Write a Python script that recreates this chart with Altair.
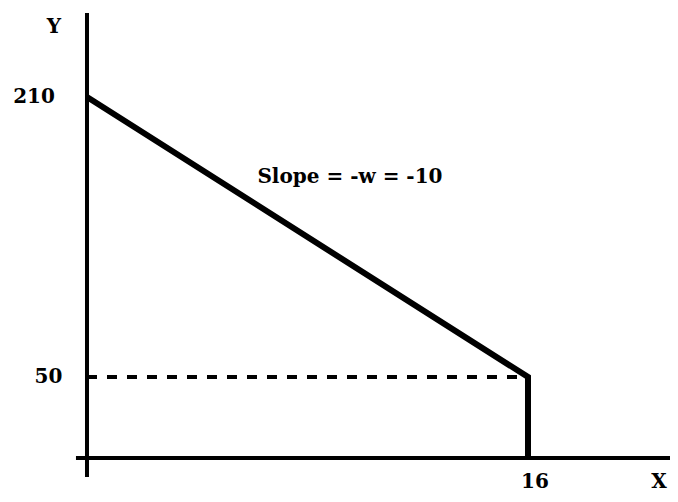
import altair as alt
import pandas as pd

# Main polyline (price line)
line_x = [0, 16, 16]
line_y = [210, 50, 3.7]

# Dashed guide
dash_x = [0, 16]
dash_y = [50, 50]

# Axes lines (data units)
axis_x = [0, -0.4]
axis_x2 = [0, 21.2]
axis_y = [-7.1, 3.7]
axis_y2 = [258, 3.7]

# Labels
label_text = ["Y", "210", "50", "16", "X", "Slope = -w = -10"]
label_x = [-1.2, -1.92, -1.40, 16.25, 20.75, 9.54]
label_y = [250, 210, 50, -10.2, -10.2, 164.3]

xs = alt.Scale(domain=[-2.866, 21.152], nice=False, zero=False)
ys = alt.Scale(domain=[-16.857, 260.86], nice=False, zero=False)

line_df = pd.DataFrame({"x": line_x, "y": line_y, "o": range(len(line_x))})
dash_df = pd.DataFrame({"x": dash_x, "y": dash_y})
axis_df = pd.DataFrame({"x": axis_x, "x2": axis_x2, "y": axis_y, "y2": axis_y2})
lab_df = pd.DataFrame({"t": label_text, "x": label_x, "y": label_y})

axes = alt.Chart(axis_df).mark_rule(color="black", strokeWidth=4, strokeCap="butt").encode(
    x=alt.X("x:Q", scale=xs, axis=None),
    x2="x2:Q",
    y=alt.Y("y:Q", scale=ys, axis=None),
    y2="y2:Q",
)

dash = alt.Chart(dash_df).mark_line(color="black", strokeWidth=4, strokeDash=[10, 10]).encode(
    x=alt.X("x:Q", scale=xs, axis=None),
    y=alt.Y("y:Q", scale=ys, axis=None),
)

main = alt.Chart(line_df).mark_line(color="black", strokeWidth=6, strokeJoin="miter", strokeCap="butt").encode(
    x=alt.X("x:Q", scale=xs, axis=None),
    y=alt.Y("y:Q", scale=ys, axis=None),
    order="o:Q",
)

labels = alt.Chart(lab_df).mark_text(
    font="DejaVu Serif", fontWeight="bold", fontSize=20, color="black",
    align="center", baseline="middle"
).encode(
    x=alt.X("x:Q", scale=xs, axis=None),
    y=alt.Y("y:Q", scale=ys, axis=None),
    text="t:N",
)

chart = alt.layer(axes, dash, main, labels).properties(
    width=662, height=486,
    autosize=alt.AutoSizeParams(type="none"),
    padding=0,
).configure_view(stroke=None)

chart.save("out.html", embed_options={"renderer": "svg", "actions": False})
